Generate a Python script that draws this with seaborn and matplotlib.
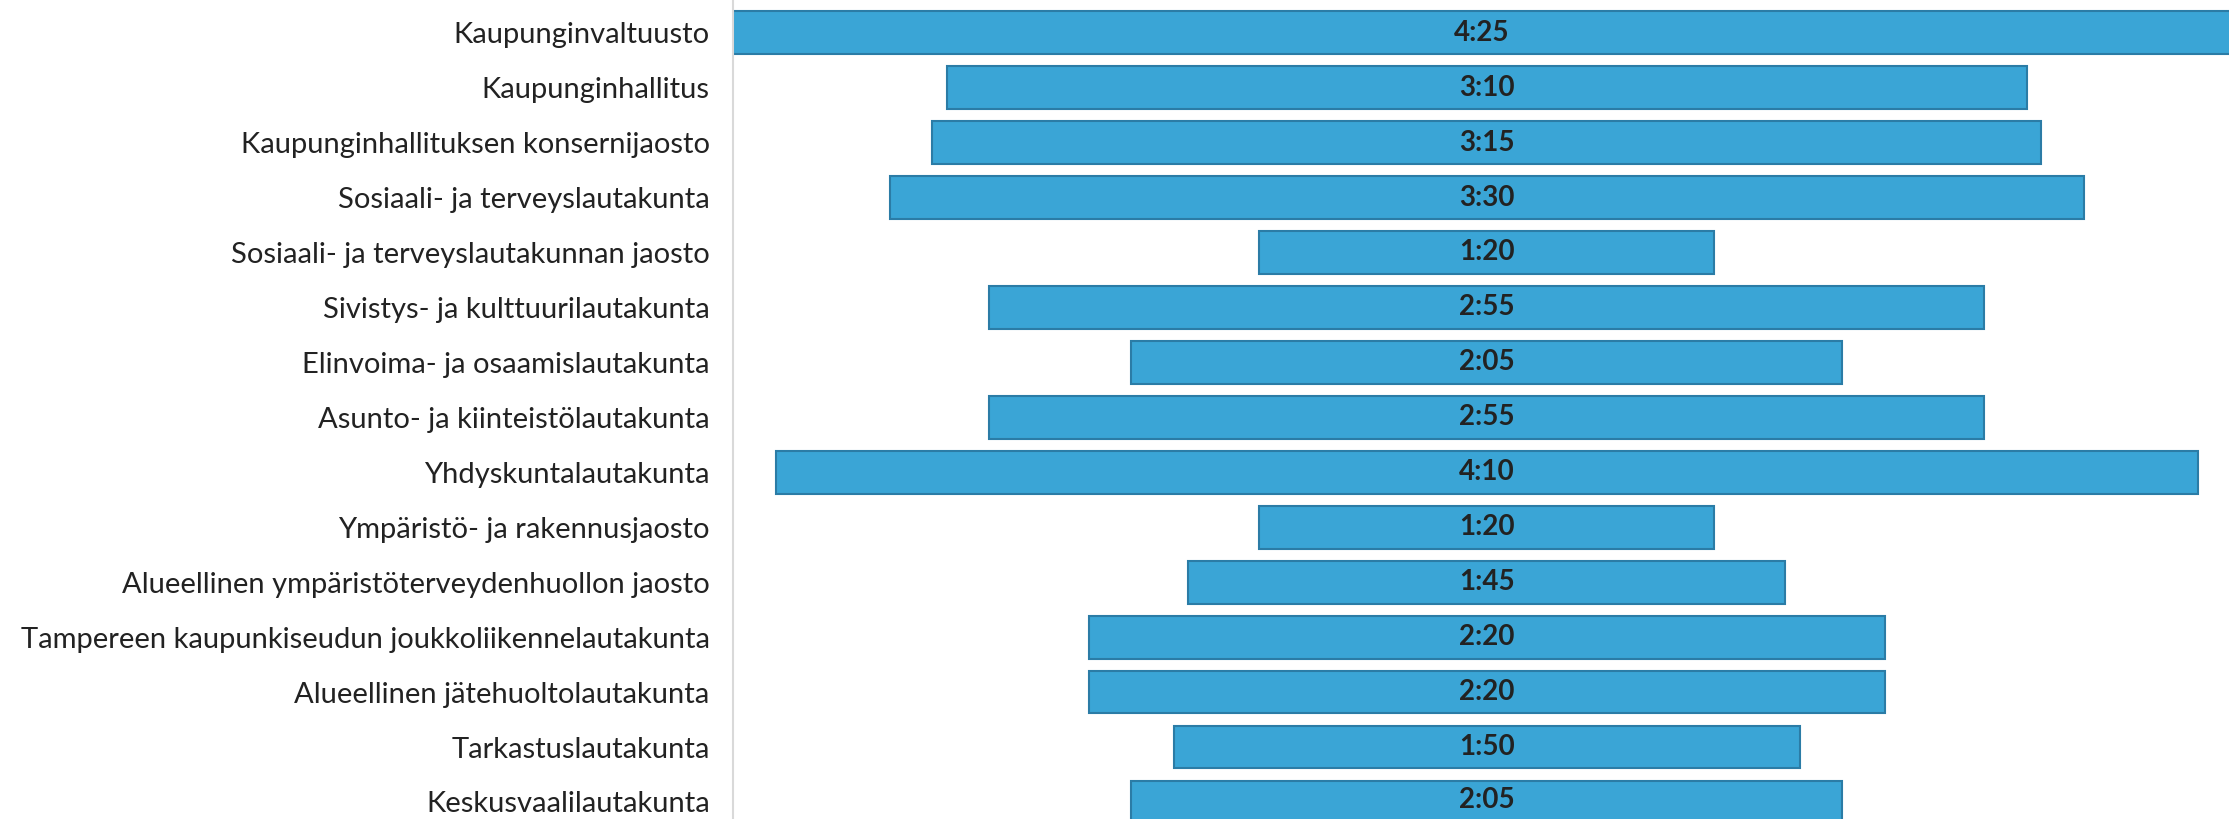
import matplotlib
matplotlib.use("Agg")
import matplotlib.pyplot as plt
import seaborn as sns
import pandas as pd

# Data: meeting length per body (h:mm)
bodies = [
    "Kaupunginvaltuusto",
    "Kaupunginhallitus",
    "Kaupunginhallituksen konsernijaosto",
    "Sosiaali- ja terveyslautakunta",
    "Sosiaali- ja terveyslautakunnan jaosto",
    "Sivistys- ja kulttuurilautakunta",
    "Elinvoima- ja osaamislautakunta",
    "Asunto- ja kiinteistölautakunta",
    "Yhdyskuntalautakunta",
    "Ympäristö- ja rakennusjaosto",
    "Alueellinen ympäristöterveydenhuollon jaosto",
    "Tampereen kaupunkiseudun joukkoliikennelautakunta",
    "Alueellinen jätehuoltolautakunta",
    "Tarkastuslautakunta",
    "Keskusvaalilautakunta",
]
durations = ["4:25", "3:10", "3:15", "3:30", "1:20", "2:55", "2:05", "2:55",
             "4:10", "1:20", "1:45", "2:20", "2:20", "1:50", "2:05"]

# convert h:mm to minutes
minutes = [int(d.split(":")[0]) * 60 + int(d.split(":")[1]) for d in durations]
df = pd.DataFrame({"body": bodies, "minutes": minutes})

sns.set_style("white")
plt.rcParams["font.family"] = ["Lato", "DejaVu Sans"]

fig = plt.figure(figsize=(22.29, 8.19), dpi=100)
ax = fig.add_axes([0.329, 0.0, 0.671, 1.0])

# centred bars -> funnel look
lefts = [-m / 2 for m in minutes]
sns.barplot(data=df, x="minutes", y="body", order=bodies, orient="h",
            color="#3aa5d6", saturation=1, width=0.78,
            edgecolor="#2b7ca6", linewidth=1.5, left=lefts, ax=ax)

ax.bar_label(ax.containers[0], labels=durations, label_type="center",
             fontsize=20, fontweight="bold", color="#222222")

ax.set_xlim(-132.5, 130.5)
ax.set_ylim(14.31, -0.595)
ax.set_xlabel("")
ax.set_ylabel("")
ax.set_xticks([])
ax.tick_params(axis="y", length=0, pad=17, labelsize=21, labelcolor="#222222")

for side in ["top", "right", "bottom"]:
    ax.spines[side].set_visible(False)
ax.spines["left"].set_color("#d9d9d9")
ax.spines["left"].set_linewidth(1.5)

fig.savefig("out.png", dpi=100)
